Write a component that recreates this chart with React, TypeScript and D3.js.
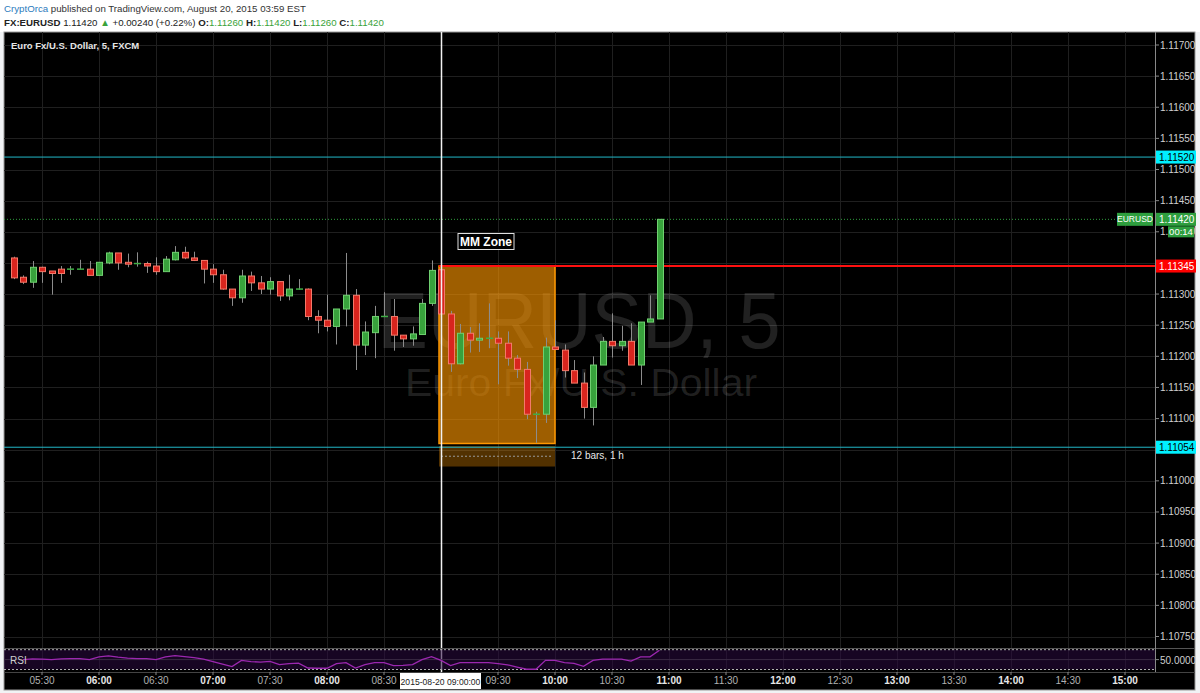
import * as d3 from "d3";

// bars every 5 minutes starting 05:15
const firstBar = "05:15";
const barStep = 5;

const opens = [
  1.11358, 1.11327, 1.11319, 1.11343, 1.11337, 1.1134, 1.1134, 1.1134, 1.1134, 1.1133,
  1.1135, 1.11366, 1.11351, 1.11349, 1.11349, 1.11345, 1.11336, 1.11355, 1.11367, 1.11358,
  1.11354, 1.1134, 1.11331, 1.11308, 1.11294, 1.11329, 1.11318, 1.11308, 1.1132, 1.11297,
  1.11308, 1.11308, 1.11264, 1.11258, 1.11248, 1.11276, 1.11298, 1.11218, 1.11238, 1.11264,
  1.11264, 1.11234, 1.11228, 1.11235, 1.11285, 1.11339, 1.11268, 1.11188, 1.11237, 1.11226,
  1.11229, 1.11229, 1.11221, 1.11197, 1.11179, 1.11107, 1.11107, 1.11215, 1.1121, 1.11177,
  1.11157, 1.11118, 1.11186, 1.11224, 1.11217, 1.11224, 1.11186, 1.11255, 1.1126,
];
const highs = [
  1.1136, 1.1133, 1.11353, 1.11344, 1.11337, 1.11345, 1.11345, 1.11355, 1.11353, 1.11351,
  1.11368, 1.11366, 1.11365, 1.11367, 1.11352, 1.11359, 1.11361, 1.11377, 1.11376, 1.11368,
  1.11354, 1.11348, 1.11339, 1.11308, 1.11339, 1.11336, 1.11329, 1.11327, 1.1132, 1.11331,
  1.11324, 1.11309, 1.11274, 1.11299, 1.11276, 1.11366, 1.11308, 1.11256, 1.11281, 1.11303,
  1.11292, 1.11234, 1.11248, 1.11292, 1.11354, 1.11355, 1.11273, 1.11252, 1.11247, 1.11253,
  1.11285, 1.1124, 1.1124, 1.11202, 1.11191, 1.11111, 1.1123, 1.11258, 1.11219, 1.11194,
  1.11174, 1.112, 1.11231, 1.11269, 1.11249, 1.11253, 1.11255, 1.11298, 1.1142,
];
const lows = [
  1.11324, 1.11316, 1.1131, 1.11318, 1.11299, 1.11318, 1.11331, 1.1134, 1.1133, 1.1133,
  1.11348, 1.11339, 1.11343, 1.11344, 1.11334, 1.11331, 1.11336, 1.11354, 1.11356, 1.11353,
  1.11317, 1.11318, 1.11307, 1.11281, 1.11286, 1.11305, 1.113, 1.11299, 1.11289, 1.1129,
  1.11307, 1.11258, 1.11237, 1.1124, 1.11219, 1.11248, 1.11178, 1.11202, 1.11197, 1.11263,
  1.11209, 1.11215, 1.11217, 1.11235, 1.11281, 1.11267, 1.11175, 1.11187, 1.11206, 1.11207,
  1.11213, 1.11155, 1.11185, 1.11165, 1.11099, 1.11061, 1.11093, 1.1121, 1.11166, 1.11157,
  1.111, 1.11089, 1.11186, 1.11198, 1.11209, 1.11186, 1.11154, 1.11255, 1.1126,
];
const closes = [
  1.11326, 1.11319, 1.11343, 1.11336, 1.11333, 1.11333, 1.1134, 1.1134, 1.1133, 1.11351,
  1.11366, 1.1135, 1.11348, 1.11349, 1.11345, 1.11336, 1.11356, 1.11367, 1.11358, 1.11354,
  1.1134, 1.11331, 1.11308, 1.11294, 1.11329, 1.11318, 1.11308, 1.1132, 1.11297, 1.11308,
  1.11308, 1.11264, 1.11258, 1.11248, 1.11276, 1.11298, 1.11218, 1.11239, 1.11264, 1.11264,
  1.11234, 1.11228, 1.11236, 1.11285, 1.11338, 1.11268, 1.11188, 1.11237, 1.11226, 1.11229,
  1.11229, 1.11221, 1.11197, 1.11179, 1.11107, 1.11107, 1.11215, 1.11211, 1.11177, 1.11157,
  1.11118, 1.11186, 1.11224, 1.11217, 1.11224, 1.11186, 1.11255, 1.1126, 1.1142,
];

// RSI from the second bar on
const rsiValues = [
  50, 51.5, 51, 50, 51.5, 52, 52, 50, 55.5, 57.5, 55, 53, 52, 52, 50, 55.5, 58, 56, 54, 51,
  46, 41, 36, 48.5, 46, 45, 46.5, 40, 42, 43, 33, 32.5, 32.5, 42, 44, 33, 40, 44, 44, 38,
  38.5, 40, 50, 56, 48.5, 38, 44, 44, 44, 44, 42, 39.5, 35, 30.5, 30.5, 48.5, 48.5, 44, 42.5, 36.5,
  48.5, 51, 51, 51, 47, 55.5, 55.5, 69,
];

const priceTicks = [
  1.1075, 1.108, 1.1085, 1.109, 1.1095, 1.11, 1.1105, 1.111, 1.1115, 1.112,
  1.1125, 1.113, 1.1135, 1.114, 1.1145, 1.115, 1.1155, 1.116, 1.1165, 1.117,
];
// labels hidden behind the level boxes in the original
const hiddenPriceTicks = [1.1105, 1.1135];
const timeTicks = [
  "05:30", "06:00", "06:30", "07:00", "07:30", "08:00", "08:30", "09:00", "09:30", "10:00",
  "10:30", "11:00", "11:30", "12:00", "12:30", "13:00", "13:30", "14:00", "14:30", "15:00",
];

const cyanLevels = [1.1152, 1.11054];
const redLevel = 1.11345;
const lastPrice = 1.1142;
const zone = { start: "09:00", end: "10:00", top: 1.11345, bottom: 1.1106 };
const zoneBand = { top: 1.11056, bottom: 1.11023 };
const crosshair = "09:00";

const toMin = (s: string) => +s.slice(0, 2) * 60 + +s.slice(3);
const fmt = d3.format(".5f");

const FONT = "'Liberation Sans', Arial, sans-serif";
const PANE = { left: 4, top: 32, right: 1195, bottom: 690 };
const AXIS_X = 1155;
const PRICE_BOTTOM = 648;
const RSI_BOTTOM = 672;

export default function App() {
  const x = d3.scaleLinear().domain([toMin("09:00"), toMin("15:00")]).range([441, 1125]);
  const y = d3.scaleLinear().domain([1.1075, 1.117]).range([636.5, 45]);
  const yRsi = d3.scaleLinear().domain([30, 70]).range([669.5, 649.7]);

  const t0 = toMin(firstBar);
  const bars = opens.map((o, i) => ({
    t: t0 + i * barStep,
    o,
    h: highs[i],
    l: lows[i],
    c: closes[i],
  }));

  const rsiLine = d3
    .line<number>()
    .x((_, i) => x(t0 + (i + 1) * barStep))
    .y(d => yRsi(d));

  const bodyW = 6;
  const zx0 = x(toMin(zone.start)) - 2;
  const zx1 = x(toMin(zone.end));

  const priceBox = (p: number, bg: string, fg: string, key: string) => (
    <g key={key}>
      <rect x={AXIS_X + 1} y={y(p) - 6.5} width={40} height={13} fill={bg} />
      <text x={AXIS_X + 4} y={y(p) + 3.5} fontSize={10} fill={fg} fontFamily={FONT}>
        {fmt(p)}
      </text>
    </g>
  );

  return (
    <div style={{ position: "absolute", left: 0, top: 0 }}>
      <svg width={1200} height={693} style={{ display: "block" }}>
        <rect width={1200} height={693} fill="#f1f3f5" />
        <rect width={1200} height={PANE.top} fill="#ffffff" />

        {/* header */}
        <text x={4} y={12} fontSize={9.7} fontFamily={FONT} fill="#333">
          <tspan fill="#2b7bbd">CryptOrca</tspan>
          <tspan> published on TradingView.com, August 20, 2015 03:59 EST</tspan>
        </text>
        <text x={4} y={26} fontSize={9.7} fontFamily={FONT} fill="#222">
          <tspan fontWeight="bold">FX:EURUSD</tspan>
          <tspan> 1.11420 </tspan>
          <tspan fill="#3aa33a">▲</tspan>
          <tspan> +0.00240 (+0.22%) </tspan>
          <tspan fontWeight="bold">O:</tspan>
          <tspan fill="#3aa33a">1.11260 </tspan>
          <tspan fontWeight="bold">H:</tspan>
          <tspan fill="#3aa33a">1.11420 </tspan>
          <tspan fontWeight="bold">L:</tspan>
          <tspan fill="#3aa33a">1.11260 </tspan>
          <tspan fontWeight="bold">C:</tspan>
          <tspan fill="#3aa33a">1.11420</tspan>
        </text>

        {/* pane */}
        <rect
          x={PANE.left}
          y={PANE.top}
          width={PANE.right - PANE.left}
          height={PANE.bottom - PANE.top}
          fill="#000"
          stroke="#9a9a9a"
          strokeWidth={1}
        />

        {/* grid */}
        <g stroke="#1f1f1f" strokeWidth={1}>
          {priceTicks.map(p => (
            <line key={p} x1={PANE.left} x2={AXIS_X} y1={Math.round(y(p)) + 0.5} y2={Math.round(y(p)) + 0.5} />
          ))}
          {timeTicks.map(t => (
            <line key={t} x1={Math.round(x(toMin(t))) + 0.5} x2={Math.round(x(toMin(t))) + 0.5} y1={PANE.top} y2={RSI_BOTTOM} />
          ))}
        </g>

        {/* watermark */}
        <text x={579} y={348} fontSize={80} fill="#ffffff" fillOpacity={0.13} textAnchor="middle" fontFamily={FONT} textLength={403} lengthAdjust="spacingAndGlyphs">
          EURUSD, 5
        </text>
        <text x={581} y={396} fontSize={38} fill="#ffffff" fillOpacity={0.13} textAnchor="middle" fontFamily={FONT} textLength={352} lengthAdjust="spacingAndGlyphs">
          Euro Fx/U.S. Dollar
        </text>

        {/* MM zone */}
        <rect x={zx0} y={y(zone.top)} width={zx1 - zx0} height={y(zone.bottom) - y(zone.top)} fill="#ff9800" fillOpacity={0.62} stroke="#ff9800" strokeWidth={1.5} />
        <rect x={zx0} y={y(zoneBand.top)} width={zx1 - zx0} height={y(zoneBand.bottom) - y(zoneBand.top)} fill="#ff9800" fillOpacity={0.32} />
        <line x1={zx0 + 2} x2={zx1 - 2} y1={(y(zoneBand.top) + y(zoneBand.bottom)) / 2} y2={(y(zoneBand.top) + y(zoneBand.bottom)) / 2} stroke="#999" strokeDasharray="2,2" />
        <text x={571} y={459} fontSize={10} fill="#e8e8e8" fontFamily={FONT}>12 bars, 1 h</text>

        {/* horizontal levels */}
        {cyanLevels.map(p => (
          <line key={p} x1={PANE.left} x2={AXIS_X} y1={y(p)} y2={y(p)} stroke="#22b8c8" strokeWidth={1} />
        ))}
        <line x1={zx0} x2={AXIS_X} y1={y(redLevel)} y2={y(redLevel)} stroke="#ff1010" strokeWidth={2} />
        <line x1={PANE.left} x2={AXIS_X - 38} y1={y(lastPrice)} y2={y(lastPrice)} stroke="#2e9e3e" strokeDasharray="1,2" />

        <rect x={458} y={233.5} width={56} height={16} fill="#000" stroke="#e0e0e0" strokeWidth={1} />
        <text x={486} y={245.5} fontSize={12} fontWeight="bold" fill="#fff" textAnchor="middle" fontFamily={FONT}>MM Zone</text>

        {/* candles */}
        {bars.map((b, i) => {
          const cx = x(b.t);
          const up = b.c >= b.o;
          const top = y(Math.max(b.o, b.c));
          const bot = y(Math.min(b.o, b.c));
          const doji = bot - top < 1.5;
          return (
            <g key={i}>
              <line x1={Math.round(cx) + 0.5} x2={Math.round(cx) + 0.5} y1={y(b.h)} y2={y(b.l)} stroke="#8c8c8c" strokeWidth={1} />
              {doji ? (
                <line x1={Math.round(cx) - 3} x2={Math.round(cx) + 4} y1={top} y2={top} stroke="#3fae45" strokeWidth={1.5} />
              ) : (
                <rect
                  x={Math.round(cx) - bodyW / 2 + 0.5}
                  y={top}
                  width={bodyW}
                  height={bot - top}
                  fill={up ? "#38a23c" : "#d8251e"}
                  stroke={up ? "#6fd070" : "#f4796a"}
                  strokeWidth={1}
                />
              )}
            </g>
          );
        })}

        {/* crosshair */}
        <line x1={x(toMin(crosshair)) + 0.5} x2={x(toMin(crosshair)) + 0.5} y1={PANE.top} y2={RSI_BOTTOM} stroke="#f2f2f2" strokeWidth={1.5} />

        {/* title */}
        <text x={11} y={49} fontSize={9.5} fill="#e6e6e6" fontFamily={FONT} fontWeight="bold">
          Euro Fx/U.S. Dollar, 5, FXCM
        </text>

        {/* RSI pane */}
        <line x1={PANE.left} x2={PANE.right} y1={PRICE_BOTTOM + 0.5} y2={PRICE_BOTTOM + 0.5} stroke="#555" />
        <rect x={PANE.left} y={yRsi(70)} width={AXIS_X - PANE.left} height={yRsi(30) - yRsi(70)} fill="#2a0a40" fillOpacity={0.55} />
        <line x1={PANE.left} x2={AXIS_X} y1={yRsi(50)} y2={yRsi(50)} stroke="#3a2a44" />
        {[70, 30].map(v => (
          <line key={v} x1={PANE.left} x2={AXIS_X} y1={yRsi(v)} y2={yRsi(v)} stroke="#b0b0b0" strokeDasharray="2,2" />
        ))}
        <path d={rsiLine(rsiValues) ?? ""} fill="none" stroke="#9c27b0" strokeWidth={1.3} />
        <text x={10} y={664} fontSize={10} fill="#cfcfcf" fontFamily={FONT}>RSI</text>
        <text x={AXIS_X + 5} y={663.5} fontSize={10} fill="#cfcfcf" fontFamily={FONT}>50.0000</text>
        <line x1={AXIS_X} x2={AXIS_X + 4} y1={yRsi(50)} y2={yRsi(50)} stroke="#888" />
        <line x1={PANE.left} x2={PANE.right} y1={RSI_BOTTOM + 0.5} y2={RSI_BOTTOM + 0.5} stroke="#444" />

        {/* price axis */}
        <line x1={AXIS_X + 0.5} x2={AXIS_X + 0.5} y1={PANE.top} y2={RSI_BOTTOM} stroke="#888" />
        {priceTicks.map(p => (
          <g key={p}>
            <line x1={AXIS_X} x2={AXIS_X + 4} y1={y(p)} y2={y(p)} stroke="#888" />
            {!hiddenPriceTicks.includes(p) && (
              <text x={AXIS_X + 5} y={y(p) + 3.5} fontSize={10} fill="#d0d0d0" fontFamily={FONT}>{fmt(p)}</text>
            )}
          </g>
        ))}
        {cyanLevels.map(p => priceBox(p, "#00f0ff", "#000", "c" + p))}
        {priceBox(redLevel, "#ff0000", "#fff", "red")}
        {priceBox(lastPrice, "#2e9e3e", "#fff", "last")}
        <rect x={1117} y={y(lastPrice) - 6.5} width={36} height={13} fill="#2e9e3e" />
        <text x={1135} y={y(lastPrice) + 3} fontSize={8.5} fill="#fff" textAnchor="middle" fontFamily={FONT}>EURUSD</text>
        <rect x={1168} y={y(lastPrice) + 7} width={26} height={11} fill="#2e9e3e" />
        <text x={1181} y={y(lastPrice) + 16} fontSize={9.5} fill="#fff" textAnchor="middle" fontFamily={FONT}>00:14</text>

        {/* time axis */}
        {timeTicks.map(t => {
          const hour = t.endsWith(":00");
          return (
            <g key={t}>
              <line x1={x(toMin(t))} x2={x(toMin(t))} y1={RSI_BOTTOM} y2={RSI_BOTTOM + 3} stroke="#888" />
              {t !== crosshair && (
                <text x={x(toMin(t))} y={684} fontSize={10} textAnchor="middle" fill={hour ? "#e6e6e6" : "#b0b0b0"} fontWeight={hour ? "bold" : "normal"} fontFamily={FONT}>
                  {t}
                </text>
              )}
            </g>
          );
        })}
        <rect x={400} y={673} width={81} height={16} fill="#fff" />
        <text x={440.5} y={684.5} fontSize={8.6} textAnchor="middle" fill="#222" fontFamily={FONT}>
          2015-08-20 09:00:00
        </text>
      </svg>
    </div>
  );
}
